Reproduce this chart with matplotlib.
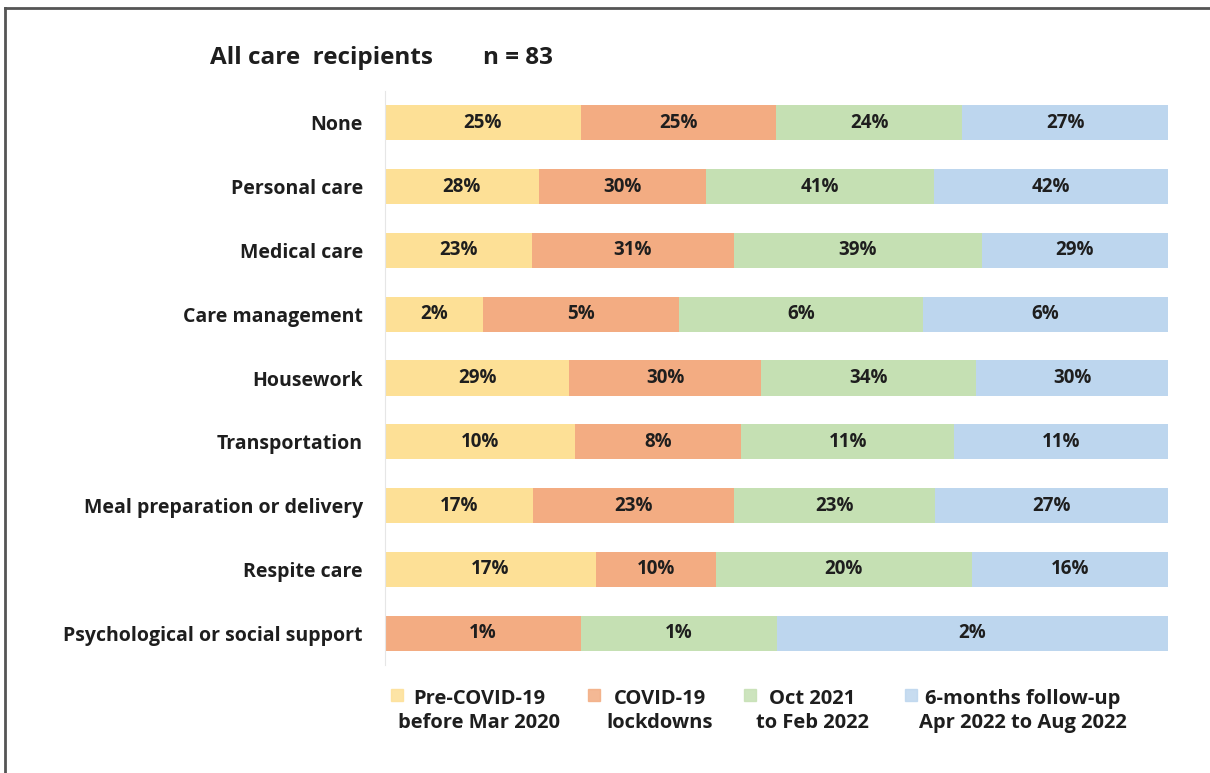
import numpy as np
import matplotlib.pyplot as plt
from matplotlib.patches import Rectangle
from matplotlib.lines import Line2D

plt.rcParams['font.family'] = ['Open Sans', 'DejaVu Sans']

categories = ['None', 'Personal care', 'Medical care', 'Care management', 'Housework',
              'Transportation', 'Meal preparation or delivery', 'Respite care',
              'Psychological or social support']
periods = ['Pre-COVID-19\nbefore Mar 2020', 'COVID-19\nlockdowns', 'Oct 2021\nto Feb 2022',
           '6-months follow-up\nApr 2022 to Aug 2022']
# percent of care recipients (n = 83) receiving each service, per period
pre_covid = [25.3, 27.7, 22.9, 2.4, 28.9, 9.6, 16.9, 16.9, 0.0]
lockdowns = [25.3, 30.1, 31.3, 4.8, 30.1, 8.4, 22.9, 9.6, 1.2]
oct21_feb22 = [24.1, 41.0, 38.6, 6.0, 33.7, 10.8, 22.9, 20.5, 1.2]
followup = [26.6, 42.2, 28.9, 6.0, 30.1, 10.8, 26.6, 15.7, 2.4]
colors = ['#FDE096', '#F3AC82', '#C5E0B3', '#BDD6EE']
txt_col = '#1e1e1e'

vals = np.array([pre_covid, lockdowns, oct21_feb22, followup])
shares = vals / vals.sum(axis=0)

fig = plt.figure(figsize=(12.1, 7.73), dpi=100)
ax = fig.add_axes([385 / 1210, 1 - 665 / 773, 783 / 1210, 574 / 773])

y = np.arange(len(categories))
left = np.zeros(len(categories))
for k in range(4):
    ax.barh(y, shares[k], left=left, height=0.55, color=colors[k], edgecolor='none')
    for i in range(len(categories)):
        if vals[k, i] > 0:
            ax.text(left[i] + shares[k, i] / 2, y[i], f'{vals[k, i]:.0f}%', ha='center', va='center',
                    fontsize=13.5, fontweight='bold', color=txt_col)
    left += shares[k]

ax.set_xlim(0, 1)
ax.set_ylim(len(categories) - 0.5, -0.5)
ax.set_yticks(y)
ax.set_yticklabels(categories, fontsize=14, fontweight='bold', color=txt_col)
ax.tick_params(axis='y', length=0, pad=16)
ax.set_xticks([])
for s in ['top', 'right', 'bottom']:
    ax.spines[s].set_visible(False)
ax.spines['left'].set_color('#e6e6e6')

# title
fig.text(210 / 1210, 1 - 58 / 773, 'All care  recipients', fontsize=17.5, fontweight='bold', va='center', color=txt_col)
fig.text(483 / 1210, 1 - 58 / 773, 'n = 83', fontsize=17.5, fontweight='bold', va='center', color=txt_col)

# legend, drawn by hand so the two-line labels are centred
sq_x = [391, 588, 744, 905]
txt_x = [479, 660, 812, 1023]
for k in range(4):
    fig.patches.append(Rectangle((sq_x[k] / 1210, 1 - 701 / 773), 12 / 1210, 12 / 773,
                                 transform=fig.transFigure, color=colors[k], alpha=0.85))
    fig.text(txt_x[k] / 1210, 1 - 711 / 773, periods[k], ha='center', va='center', multialignment='center',
             fontsize=14.5, fontweight='bold', color=txt_col, linespacing=1.32)

# frame of the original screenshot
fig.add_artist(Line2D([5 / 1210, 5 / 1210], [0, 1 - 8 / 773], color='#555555', lw=2))
fig.add_artist(Line2D([5 / 1210, 1], [1 - 8 / 773, 1 - 8 / 773], color='#555555', lw=2))

fig.savefig('out.png', dpi=100)
